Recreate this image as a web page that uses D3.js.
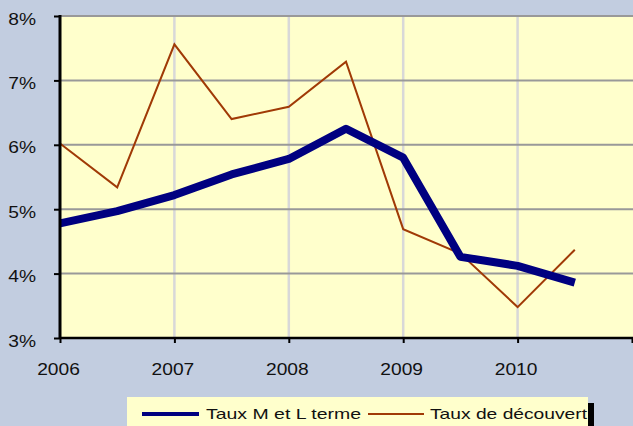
<!doctype html>
<html>
<head>
  <script src="https://d3js.org/d3.v7.min.js"></script>
  <style>
  body {
    margin: 0;
    background: #c2cde0;
  }
  svg {
    display: block;
    font-family: "Liberation Sans", Arial, sans-serif;
  }
  </style>
</head>
<body>
  <script>
    // half-year points
    var periods = [2006, 2006.5, 2007, 2007.5, 2008, 2008.5, 2009, 2009.5, 2010, 2010.5];
    var tauxMLT = [4.78, 4.97, 5.22, 5.54, 5.78, 6.25, 5.80, 4.26, 4.12, 3.86];
    var tauxDecouvert = [6.02, 5.34, 7.56, 6.40, 6.59, 7.29, 4.69, 4.31, 3.48, 4.37];
    var xTicks = [2006, 2007, 2008, 2009, 2010, 2011];
    var xTickLabels = ["2006", "2007", "2008", "2009", "2010", ""];
    var yTicks = [3, 4, 5, 6, 7, 8];
    var seriesNames = ["Taux M et L terme", "Taux de découvert"];

    var width = 633,
        height = 426;

    var x = d3.scaleLinear()
        .domain([2006, 2011])
        .range([60, 632]);

    var y = d3.scaleLinear()
        .domain([3, 8])
        .range([338, 16]);

    var svg = d3.select("body").append("svg")
        .attr("width", width)
        .attr("height", height);

    // plot area
    svg.append("rect")
        .attr("x", x(2006))
        .attr("y", y(8))
        .attr("width", width - x(2006))
        .attr("height", y(3) - y(8))
        .style("fill", "#ffffcc");

    // vertical grid
    svg.selectAll(".vgrid")
        .data(xTicks.slice(1, 5))
      .enter().append("line")
        .attr("class", "vgrid")
        .attr("x1", function(d){return x(d);})
        .attr("x2", function(d){return x(d);})
        .attr("y1", y(8))
        .attr("y2", y(3))
        .style("stroke", "#d8d8d8")
        .style("stroke-width", 2.5);

    // horizontal grid
    svg.selectAll(".hgrid")
        .data(yTicks.slice(1))
      .enter().append("line")
        .attr("class", "hgrid")
        .attr("x1", x(2006))
        .attr("x2", width)
        .attr("y1", function(d){return y(d);})
        .attr("y2", function(d){return y(d);})
        .style("stroke", "#999999")
        .style("stroke-width", 2);

    var line = d3.line()
        .x(function(d){return x(d[0]);})
        .y(function(d){return y(d[1]);});

    svg.append("path")
        .datum(d3.zip(periods, tauxDecouvert))
        .attr("d", line)
        .style("fill", "none")
        .style("stroke", "#a03a06")
        .style("stroke-width", 2);

    svg.append("path")
        .datum(d3.zip(periods, tauxMLT))
        .attr("d", line)
        .style("fill", "none")
        .style("stroke", "#000080")
        .style("stroke-width", 8)
        .style("stroke-linejoin", "round");

    // axes
    var yAxis = d3.axisLeft(y)
        .tickValues(yTicks)
        .tickSize(6)
        .tickFormat(function(d){return d + "%";});

    var gy = svg.append("g")
        .attr("transform", "translate(" + x(2006) + ",0)")
        .call(yAxis);
    gy.select(".domain").remove();
    gy.selectAll(".tick line").style("stroke", "#000").style("stroke-width", 2);
    gy.selectAll(".tick text")
        .attr("x", 0)
        .attr("dy", 0)
        .attr("transform", "translate(-24,8) scale(1.2,1)")
        .attr("text-anchor", "end")
        .style("font-size", "16px")
        .style("font-family", "'Liberation Sans', Arial, sans-serif")
        .style("fill", "#111");

    var xAxis = d3.axisBottom(x)
        .tickValues(xTicks)
        .tickSize(5)
        .tickFormat(function(d, i){return xTickLabels[i];});

    var gx = svg.append("g")
        .attr("transform", "translate(0," + y(3) + ")")
        .call(xAxis);
    gx.select(".domain").remove();
    gx.selectAll(".tick line").style("stroke", "#000").style("stroke-width", 2);
    gx.selectAll(".tick text")
        .attr("y", 0)
        .attr("dy", 0)
        .attr("transform", "translate(-2,37) scale(1.2,1)")
        .style("font-size", "16px")
        .style("font-family", "'Liberation Sans', Arial, sans-serif")
        .style("fill", "#111");

    svg.append("line")
        .attr("x1", x(2006))
        .attr("x2", width)
        .attr("y1", y(3))
        .attr("y2", y(3))
        .style("stroke", "#000")
        .style("stroke-width", 2.5);

    svg.append("line")
        .attr("x1", x(2006))
        .attr("x2", x(2006))
        .attr("y1", y(8) - 1)
        .attr("y2", y(3) + 1)
        .style("stroke", "#000")
        .style("stroke-width", 3);

    // legend
    var legend = svg.append("g");

    legend.append("rect")
        .attr("x", 127)
        .attr("y", 397)
        .attr("width", 461)
        .attr("height", 40)
        .style("fill", "#ffffcc");

    legend.append("rect")
        .attr("x", 588)
        .attr("y", 403)
        .attr("width", 6)
        .attr("height", 30)
        .style("fill", "#000");

    var legendItems = [
      {name: seriesNames[0], color: "#000080", w: 4, x0: 142, x1: 199, tx: 206, tl: 155},
      {name: seriesNames[1], color: "#a03a06", w: 2, x0: 368, x1: 424, tx: 430, tl: 157}
    ];

    legendItems.forEach(function(d){
      legend.append("line")
          .attr("x1", d.x0)
          .attr("x2", d.x1)
          .attr("y1", 414)
          .attr("y2", 414)
          .style("stroke", d.color)
          .style("stroke-width", d.w);
      legend.append("text")
          .attr("x", d.tx)
          .attr("y", 419)
          .attr("textLength", d.tl)
          .attr("lengthAdjust", "spacingAndGlyphs")
          .style("font-size", "15px")
          .style("fill", "#111")
          .text(d.name);
    });
  </script>
</body>
</html>
